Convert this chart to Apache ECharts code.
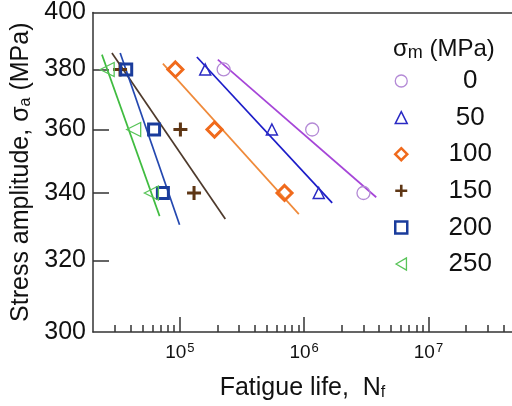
<!DOCTYPE html>
<html>
<head>
<meta charset="utf-8">
<script src="https://cdn.jsdelivr.net/npm/echarts@6/dist/echarts.min.js"></script>
<style>html,body{margin:0;padding:0;background:#fff;}#c{width:512px;height:406px;}</style>
</head>
<body>
<div id="c"></div>
<script>
// ---- data ----
const meanStress = ['0', '50', '100', '150', '200', '250'];
const stressLevels = [380, 360, 340];
const life0 = [2.25e5, 1.16e6, 3.0e6];
const life50 = [1.6e5, 5.5e5, 1.31e6];
const life100 = [9.2e4, 1.9e5, 6.95e5];
const life150 = [3.3e4, 1.01e5, 1.30e5];
const life200 = [3.7e4, 6.2e4, 7.3e4];
const life250 = [2.6e4, 4.25e4, 5.9e4];
// fitted lines: [life, stress] end points
const fit0 = [[2.02e5, 383.4], [3.8e6, 338.7]];
const fit50 = [[1.37e5, 384.3], [1.68e6, 337.0]];
const fit100 = [[7.3e4, 382.0], [9.06e5, 333.6]];
const fit150 = [[2.84e4, 385.7], [2.32e5, 332.1]];
const fit200 = [[3.31e4, 385.7], [9.94e4, 330.4]];
const fit250 = [[2.36e4, 385.1], [6.87e4, 333.0]];
const yLabels = [300, 320, 340, 360, 380, 400];
const xMajor = [1e5, 1e6, 1e7];
const xMinor = [3e4,4e4,5e4,6e4,7e4,8e4,9e4,2e5,3e5,4e5,5e5,6e5,7e5,8e5,9e5,2e6,3e6,4e6,5e6,6e6,7e6,8e6,9e6,2e7,3e7,4e7];

const lives = [life0, life50, life100, life150, life200, life250];
const fits = [fit0, fit50, fit100, fit150, fit200, fit250];
const markerColors = ['#b48ad6', '#2a2ac4', '#f06a1c', '#5e3614', '#1a3c9c', '#58c458'];
const lineColors = ['#a646d8', '#1c1cc8', '#ef8a3a', '#4e3a2c', '#2448b0', '#40bc40'];
const symbols = ['circle', 'triangle', 'diamond',
  'path://M-1.3,-6H1.3V-1.3H6V1.3H1.3V6H-1.3V1.3H-6V-1.3H-1.3Z',
  'rect', 'path://M0,5L8.66,0L8.66,10Z'];
const symSizes = [13, 11, 15, 14, 11, 14];
const borderW = [1.3, 1.5, 3, 0, 3, 1.3];

const series = [];
meanStress.forEach((m, i) => {
  series.push({
    name: 'fit' + m, type: 'line', data: fits[i], showSymbol: false, symbol: 'none',
    lineStyle: { color: lineColors[i], width: 1.7 }, silent: true, z: 2
  });
});
meanStress.forEach((m, i) => {
  const isPlus = i === 3;
  series.push({
    name: m, type: 'scatter', z: 3,
    data: lives[i].map((v, k) => [v, stressLevels[k]]),
    symbol: symbols[i], symbolSize: symSizes[i],
    itemStyle: isPlus ? { color: markerColors[i], borderWidth: 0, opacity: 1 }
                      : { color: 'rgba(255,255,255,0)', borderColor: markerColors[i], borderWidth: borderW[i], opacity: 1 }
  });
});

const legendData = meanStress.map((m, i) => ({
  name: m,
  itemStyle: i === 3 ? { borderWidth: 0 } : { borderWidth: Math.min(borderW[i], 2.5), borderColor: markerColors[i], color: 'rgba(255,255,255,0)' }
}));

const chart = echarts.init(document.getElementById('c'));
chart.setOption({
  animation: false,
  backgroundColor: '#fff',
  title: {
    text: '{t|σ}{sub|m}{t| (MPa)}', left: 388, top: 31,
    textStyle: { rich: {
      t: { fontFamily: 'Liberation Sans', fontSize: 24, fontWeight: 'normal', color: '#111' },
      sub: { fontFamily: 'Liberation Sans', fontSize: 18, fontWeight: 'normal', color: '#111', verticalAlign: 'bottom', padding: [8, 0, 0, 0] }
    } }
  },
  legend: {
    data: legendData, orient: 'vertical', left: 389, top: 63,
    itemWidth: 12, itemHeight: 12, itemGap: 10.6,
    selectedMode: false,
    formatter: '{c|{name}}',
    textStyle: { rich: { c: { width: 116, align: 'center', fontFamily: 'Liberation Sans', fontSize: 26, lineHeight: 26, color: '#111' } } }
  },
  grid: { left: 93, top: 9, right: 0, height: 325, show: false },
  xAxis: [{
    type: 'log', min: 2e4, max: 4.7e7, logBase: 10,
    name: '{t|Fatigue life,  N}{sub|f}', nameLocation: 'middle', nameGap: 44,
    nameTextStyle: { rich: {
      t: { fontFamily: 'Liberation Sans', fontSize: 25, color: '#111' },
      sub: { fontFamily: 'Liberation Sans', fontSize: 16, color: '#111', verticalAlign: 'bottom', padding: [7, 0, 0, 0] }
    } },
    axisLine: { show: true, lineStyle: { color: '#333', width: 1.5 } },
    axisTick: { show: true, inside: true, length: 15, customValues: xMajor, lineStyle: { color: '#333', width: 1.5 } },
    axisLabel: {
      show: true, margin: 10, customValues: xMajor,
      formatter: v => '{b|10}{s|' + Math.round(Math.log10(v)) + '}',
      rich: {
        b: { fontFamily: 'Liberation Sans', fontSize: 19, color: '#111', lineHeight: 22 },
        s: { fontFamily: 'Liberation Sans', fontSize: 13, color: '#111', verticalAlign: 'top', padding: [0, 0, 8, 1] }
      }
    },
    splitLine: { show: false }, minorTick: { show: false }
  }, {
    type: 'log', min: 2e4, max: 4.7e7, logBase: 10, position: 'bottom', gridIndex: 0,
    axisLine: { show: false },
    axisTick: { show: true, inside: true, length: 7, customValues: xMinor, lineStyle: { color: '#333', width: 1.5 } },
    axisLabel: { show: false }, splitLine: { show: false }
  }, {
    type: 'log', min: 2e4, max: 4.7e7, logBase: 10, position: 'top', gridIndex: 0,
    axisLine: { show: true, lineStyle: { color: '#333', width: 1.5 } },
    axisTick: { show: false }, axisLabel: { show: false }, splitLine: { show: false }
  }],
  yAxis: {
    type: 'log', min: 300, max: 400, logBase: 10,
    name: '{t|Stress amplitude, σ}{sub|a}{t| (MPa)}', nameLocation: 'middle', nameGap: 57, nameRotate: 90,
    nameTextStyle: { rich: {
      t: { fontFamily: 'Liberation Sans', fontSize: 25, color: '#111' },
      sub: { fontFamily: 'Liberation Sans', fontSize: 16, color: '#111', verticalAlign: 'bottom', padding: [7, 0, 0, 0] }
    } },
    axisLine: { show: true, lineStyle: { color: '#333', width: 1.5 } },
    axisTick: { show: true, inside: true, length: 16, customValues: [320, 340, 360, 380], lineStyle: { color: '#333', width: 1.5 } },
    axisLabel: { show: true, margin: 7, customValues: yLabels, fontFamily: 'Liberation Sans', fontSize: 25, color: '#111' },
    splitLine: { show: false }
  },
  series: series
});
</script>
</body>
</html>
